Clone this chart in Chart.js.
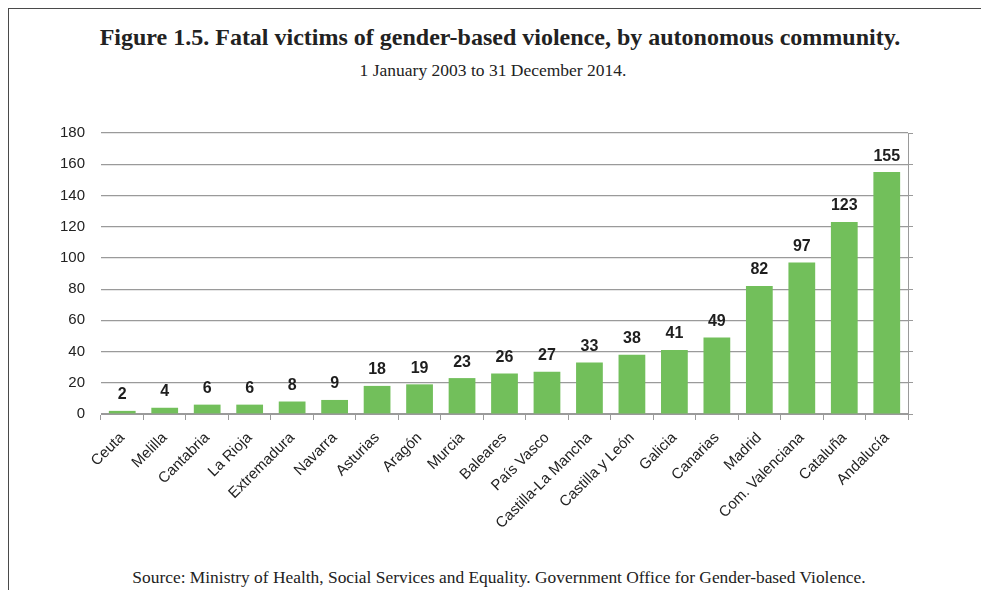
<!DOCTYPE html>
<html>
<head>
<meta charset="utf-8">
<script src="https://cdn.jsdelivr.net/npm/chart.js@4.4.1/dist/chart.umd.min.js"></script>
<style>
  html, body { margin: 0; padding: 0; background: #fff; }
  body { width: 981px; height: 590px; position: relative; overflow: hidden; }
  #frame { position: absolute; left: 8px; top: 8px; width: 980px; height: 590px;
           border-left: 1.5px solid #4a4a4a; border-top: 1.5px solid #4a4a4a; }
  .txt { position: absolute; left: 0; width: 1000px; text-align: center; color: #222;
         font-family: "Liberation Serif", "DejaVu Serif", serif; white-space: nowrap; }
  #title { top: 24px; font-size: 24px; font-weight: bold; }
  #subtitle { top: 60px; font-size: 17.5px; left: -7px; }
  #source { top: 567px; font-size: 17.4px; left: -1px; }
  #wrap { position: absolute; left: 0; top: 0; width: 981px; height: 590px; }
</style>
</head>
<body>
<div id="frame"></div>
<div class="txt" id="title">Figure 1.5. Fatal victims of gender-based violence, by autonomous community.</div>
<div class="txt" id="subtitle">1 January 2003 to 31 December 2014.</div>
<div class="txt" id="source">Source: Ministry of Health, Social Services and Equality. Government Office for Gender-based Violence.</div>
<div id="wrap"><canvas id="chart" width="981" height="590"></canvas></div>
<script>
// 自治區與死亡人數
const communities = ['Ceuta', 'Melilla', 'Cantabria', 'La Rioja', 'Extremadura', 'Navarra', 'Asturias',
  'Aragón', 'Murcia', 'Baleares', 'País Vasco', 'Castilla-La Mancha', 'Castilla y León', 'Galicia',
  'Canarias', 'Madrid', 'Com. Valenciana', 'Cataluña', 'Andalucía'];
const victims = [2, 4, 6, 6, 8, 9, 18, 19, 23, 26, 27, 33, 38, 41, 49, 82, 97, 123, 155];
const yTicks = [0, 20, 40, 60, 80, 100, 120, 140, 160, 180];

const gridGray = '#9a9a9a';
const barGreen = '#72bf5b';

// 柱狀圖上方的數值標籤
const valueLabels = {
  id: 'valueLabels',
  afterDatasetsDraw(chart) {
    const ctx = chart.ctx;
    const meta = chart.getDatasetMeta(0);
    ctx.save();
    ctx.font = 'bold 16px "Liberation Sans", Arial, sans-serif';
    ctx.fillStyle = '#1e1e1e';
    ctx.textAlign = 'center';
    ctx.textBaseline = 'alphabetic';
    meta.data.forEach((bar, i) => {
      ctx.fillText(String(victims[i]), bar.x, bar.y - 11.5);
    });
    ctx.restore();
  }
};

new Chart(document.getElementById('chart'), {
  type: 'bar',
  data: {
    labels: communities,
    datasets: [{
      data: victims,
      backgroundColor: barGreen,
      barPercentage: 0.63,
      categoryPercentage: 1.0
    }]
  },
  options: {
    responsive: false,
    animation: false,
    layout: { padding: { left: 40, top: 133, right: 68, bottom: 56 } },
    plugins: { legend: { display: false }, tooltip: { enabled: false } },
    scales: {
      x: {
        offset: true,
        grid: { offset: true, drawOnChartArea: false, tickLength: 6, color: gridGray },
        border: { color: gridGray, width: 1 },
        ticks: {
          autoSkip: false, maxRotation: 45, minRotation: 45, padding: 9,
          color: '#222', font: { family: '"Liberation Sans", Arial, sans-serif', size: 15 }
        },
        afterFit(scale) { scale.height = 120; }
      },
      y: {
        min: 0, max: 180,
        afterBuildTicks(scale) { scale.ticks = yTicks.map(v => ({ value: v })); },
        grid: { drawTicks: false, color: gridGray, lineWidth: 1.2 },
        border: { display: false },
        ticks: {
          padding: 16, color: '#222',
          font: { family: '"Liberation Sans", Arial, sans-serif', size: 15 }
        },
        afterFit(scale) { scale.width = 61; }
      },
      y2: {
        position: 'right',
        min: 0, max: 180,
        afterBuildTicks(scale) { scale.ticks = yTicks.map(v => ({ value: v })); },
        grid: { drawOnChartArea: false, tickLength: 5, color: gridGray },
        border: { color: gridGray, width: 1 },
        ticks: { display: false },
        afterFit(scale) { scale.width = 5; }
      }
    }
  },
  plugins: [valueLabels]
});
</script>
</body>
</html>
